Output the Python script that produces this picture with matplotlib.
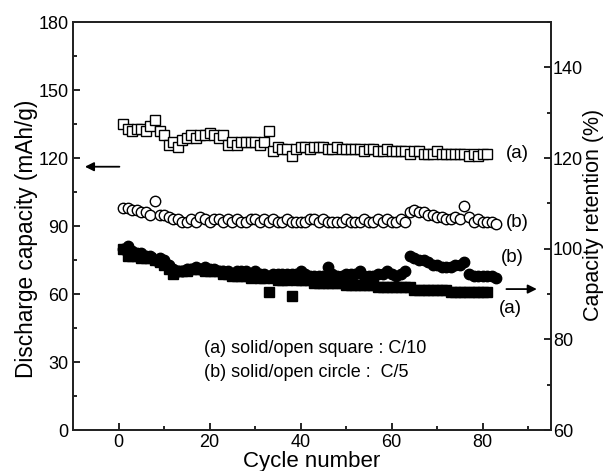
import numpy as np
import matplotlib.pyplot as plt
from matplotlib.ticker import MultipleLocator

plt.rcParams['font.family'] = ['Liberation Sans', 'DejaVu Sans']

# open squares (a): discharge capacity, mAh/g
sq_open_cycle = np.arange(1, 82)
sq_open_cap = [135, 133, 132, 133, 133, 132, 134, 137, 132, 130,
               126, 127, 125, 128, 129, 130, 129, 130, 130, 131,
               130, 129, 130, 126, 127, 126, 127, 127, 127, 127,
               126, 127, 132, 123, 125, 124, 124, 121, 124, 125,
               125, 124, 125, 125, 125, 124, 124, 125, 124, 124,
               124, 124, 124, 123, 124, 124, 123, 123, 124, 123,
               123, 123, 123, 122, 123, 123, 122, 122, 122, 123,
               122, 122, 122, 122, 122, 122, 121, 122, 121, 122,
               122]

# open circles (b): discharge capacity, mAh/g
ci_open_cycle = np.arange(1, 84)
ci_open_cap = [98, 98, 97, 97, 96, 96, 95, 101, 95, 95,
               94, 93, 93, 92, 92, 93, 92, 94, 93, 92,
               93, 93, 92, 93, 92, 93, 92, 92, 93, 93,
               92, 93, 92, 93, 92, 92, 93, 92, 92, 92,
               92, 93, 93, 92, 93, 92, 92, 92, 92, 93,
               92, 92, 92, 93, 92, 92, 93, 92, 93, 92,
               92, 93, 92, 96, 97, 96, 96, 95, 95, 94,
               94, 93, 93, 94, 93, 99, 94, 92, 93, 92,
               92, 92, 91]

# solid circles (b): capacity retention, %
ci_solid_cycle = np.arange(1, 84)
ci_solid_ret = [100, 100.5, 99.5, 99, 99, 98.5, 98.5, 97.5, 98, 97.5,
                96.5, 95.5, 95, 95, 95.5, 95.5, 96, 95.5, 96, 95.5,
                95.5, 95, 95, 95, 94.5, 95, 95, 95, 94.5, 95,
                94.5, 94.5, 94, 94.5, 94.5, 94.5, 94.5, 94.5, 94.5, 95,
                94.5, 94, 94, 94, 94, 96, 94.5, 94, 94, 94.5,
                94.5, 94.5, 95, 94, 94, 94, 94.5, 94.5, 95, 94.5,
                94, 94.5, 95, 98.5, 98, 97.5, 97.5, 97, 96.5, 96.5,
                96, 96, 96, 96.5, 96.5, 97, 94.5, 94, 94, 94,
                94, 94, 93.5]

# solid squares (a): capacity retention, %
sq_solid_cycle = np.arange(1, 82)
sq_solid_ret = [100, 98.5, 98.5, 98.5, 98, 98, 98, 97.5, 97, 96.5,
                95.5, 94.5, 95, 95, 95, 95.5, 95.5, 95.5, 95, 95,
                95, 95, 94.5, 94.5, 94, 94, 94, 94, 93.5, 94,
                93.5, 93.5, 90.5, 93.5, 93, 93, 93, 89.5, 93, 93,
                93, 93, 92.5, 92.5, 92.5, 92.5, 92.5, 92.5, 92.5, 92,
                92, 92, 92, 92, 92, 92, 91.5, 91.5, 91.5, 91.5,
                91.5, 91.5, 91.5, 91.5, 91, 91, 91, 91, 91, 91,
                91, 91, 90.5, 90.5, 90.5, 90.5, 90.5, 90.5, 90.5, 90.5,
                90.5]

fig = plt.figure(figsize=(6.05, 4.71), dpi=100)
ax = fig.add_axes([0.1207, 0.087, 0.79, 0.866])
ax2 = ax.twinx()

ms = 7.5
ax.plot(sq_open_cycle, sq_open_cap, 's', ms=ms, mfc='white', mec='black', mew=1.0)
ax.plot(ci_open_cycle, ci_open_cap, 'o', ms=ms, mfc='white', mec='black', mew=1.0)
ax2.plot(ci_solid_cycle, ci_solid_ret, 'o', ms=ms, color='black')
ax2.plot(sq_solid_cycle, sq_solid_ret, 's', ms=ms - 0.5, color='black')

ax.set_xlim(-10, 95)
ax.set_ylim(0, 180)
ax2.set_ylim(60, 150)

ax.xaxis.set_major_locator(MultipleLocator(20))
ax.xaxis.set_minor_locator(MultipleLocator(10))
ax.yaxis.set_major_locator(MultipleLocator(30))
ax.yaxis.set_minor_locator(MultipleLocator(15))
ax2.yaxis.set_major_locator(MultipleLocator(20))
ax2.yaxis.set_minor_locator(MultipleLocator(10))
ax2.set_yticks([60, 80, 100, 120, 140])

for a in (ax, ax2):
    a.tick_params(which='both', direction='in', labelsize=13, width=1.2, pad=3)
    a.tick_params(which='major', length=5)
    a.tick_params(which='minor', length=3)
    for s in a.spines.values():
        s.set_linewidth(1.3)
        s.set_color('#222222')
ax.tick_params(axis='x', top=False)
ax2.tick_params(axis='y', pad=1.5)

ax.set_xlabel('Cycle number', fontsize=16, labelpad=0)
ax.set_ylabel('Discharge capacity (mAh/g)', fontsize=16.3, va='center')
ax.yaxis.set_label_coords(-0.098, 0.47)
ax2.set_ylabel('Capacity retention (%)', fontsize=15.5, va='center')
ax2.yaxis.set_label_coords(1.088, 0.527)

arrow = dict(arrowstyle='-|>', color='black', lw=1.3, mutation_scale=13)
ax.annotate('', xy=(-8, 116.2), xytext=(0.8, 116.2), arrowprops=arrow)
ax.annotate('', xy=(92.5, 62.2), xytext=(84.6, 62.2), arrowprops=arrow)

ax.text(87.7, 122, '(a)', fontsize=13.5, ha='center', va='center')
ax.text(87.5, 91.7, '(b)', fontsize=13.5, ha='center', va='center')
ax.text(86.4, 76.3, '(b)', fontsize=13.5, ha='center', va='center')
ax.text(86, 53.8, '(a)', fontsize=13.5, ha='center', va='center')

ax.text(18.8, 36, '(a) solid/open square : C/10', fontsize=13, va='center')
ax.text(18.8, 25.5, '(b) solid/open circle :  C/5', fontsize=13, va='center')

fig.savefig('out.png', dpi=100)
